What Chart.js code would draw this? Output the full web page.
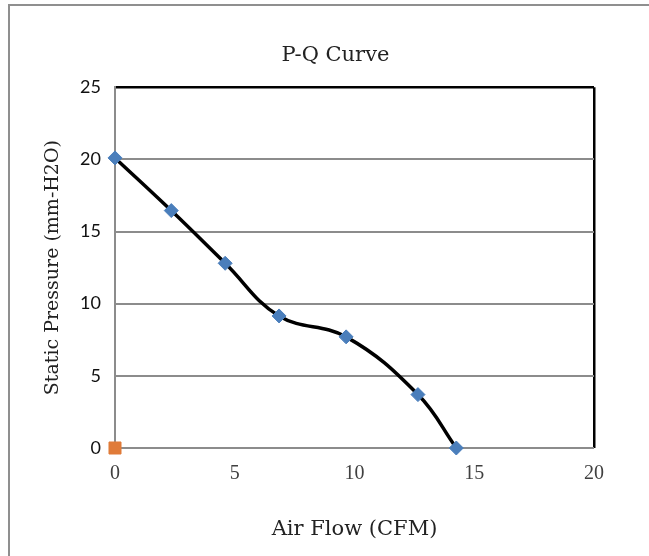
<!DOCTYPE html>
<html lang="en">
<head>
    <meta charset="UTF-8">
    <title>P-Q Curve</title>
    <script src="https://cdn.jsdelivr.net/npm/chart.js"></script>
    <style>
        body {
            margin: 0;
            padding: 0;
            background: #fff;
            overflow: hidden;
        }
        .frame {
            position: absolute;
            left: 8px;
            top: 4px;
            width: 700px;
            height: 600px;
            border-top: 2px solid #8f8f8f;
            border-left: 2px solid #8f8f8f;
        }
        canvas {
            position: absolute;
            left: 0;
            top: 0;
        }
    </style>
</head>
<body>
    <div class="frame"></div>
    <canvas id="grafico" width="649" height="556"></canvas>

    <script>
        // datos
        const airFlow = [0, 2.35, 4.6, 6.85, 9.65, 12.65, 14.25];
        const staticPressure = [20.1, 16.45, 12.8, 9.15, 7.7, 3.7, 0];
        const originFlow = [0];
        const originPressure = [0];
        const xTicks = [0, 5, 10, 15, 20];
        const yTicks = [0, 5, 10, 15, 20, 25];

        const pts = (xs, ys) => xs.map((x, i) => ({ x: x, y: ys[i] }));

        const ctx = document.getElementById("grafico").getContext("2d");
        new Chart(ctx, {
            type: "scatter",
            data: {
                datasets: [
                    {
                        label: "P-Q",
                        data: pts(airFlow, staticPressure),
                        showLine: true,
                        tension: 0.4,
                        borderColor: "#000",
                        borderWidth: 3.5,
                        pointStyle: "rectRot",
                        pointRadius: 7,
                        pointBackgroundColor: "#4a7ebb",
                        pointBorderColor: "#4a7ebb",
                        pointBorderWidth: 1,
                        clip: false,
                    },
                    {
                        label: "Origen",
                        data: pts(originFlow, originPressure),
                        pointStyle: "rect",
                        pointRadius: 8.5,
                        pointBackgroundColor: "#e07b39",
                        pointBorderColor: "#e07b39",
                        clip: false,
                    },
                ],
            },
            options: {
                responsive: false,
                devicePixelRatio: 1,
                animation: false,
                layout: { padding: { left: 22, right: 0, top: 0, bottom: 0 } },
                plugins: {
                    legend: { display: false },
                    tooltip: { enabled: false },
                    title: {
                        display: true,
                        text: "P-Q Curve",
                        color: "#222",
                        font: { family: "DejaVu Serif", size: 21, weight: "normal" },
                        padding: { top: 43, bottom: 19 },
                    },
                },
                scales: {
                    x: {
                        type: "linear",
                        min: 0,
                        max: 20,
                        afterBuildTicks: s => { s.ticks = xTicks.map(v => ({ value: v })); },
                        afterFit: s => { s.height = 108; },
                        ticks: {
                            color: "#404040",
                            padding: 14,
                            font: { family: "Liberation Serif", size: 20 },
                        },
                        grid: {
                            drawTicks: false,
                            color: c => c.tick && c.tick.value === 20 ? "#000" : "rgba(0,0,0,0)",
                            lineWidth: 2.5,
                        },
                        border: { display: false },
                        title: {
                            display: true,
                            text: "Air Flow (CFM)",
                            color: "#222",
                            font: { family: "DejaVu Serif", size: 21 },
                            padding: { top: 0, bottom: 14 },
                        },
                    },
                    y: {
                        type: "linear",
                        min: 0,
                        max: 25,
                        afterBuildTicks: s => { s.ticks = yTicks.map(v => ({ value: v })); },
                        afterFit: s => { s.width = 93; },
                        ticks: {
                            color: "#111",
                            padding: 14,
                            font: { family: "Lato", size: 18 },
                        },
                        grid: {
                            drawTicks: false,
                            color: c => c.tick && c.tick.value === 25 ? "#000" : "#8c8c8c",
                            lineWidth: c => c.tick && c.tick.value === 25 ? 2.5 : 2,
                        },
                        border: { display: true, color: "#8c8c8c", width: 2 },
                        title: {
                            display: true,
                            text: "Static Pressure (mm-H2O)",
                            color: "#222",
                            font: { family: "DejaVu Serif", size: 19 },
                            padding: { top: 20, bottom: 0 },
                        },
                    },
                    yRight: {
                        type: "linear",
                        position: "right",
                        afterFit: s => { s.width = 55; },
                        ticks: { display: false },
                        grid: { display: false, drawTicks: false },
                        border: { display: false },
                    },
                },
            },
        });
    </script>
</body>
</html>
